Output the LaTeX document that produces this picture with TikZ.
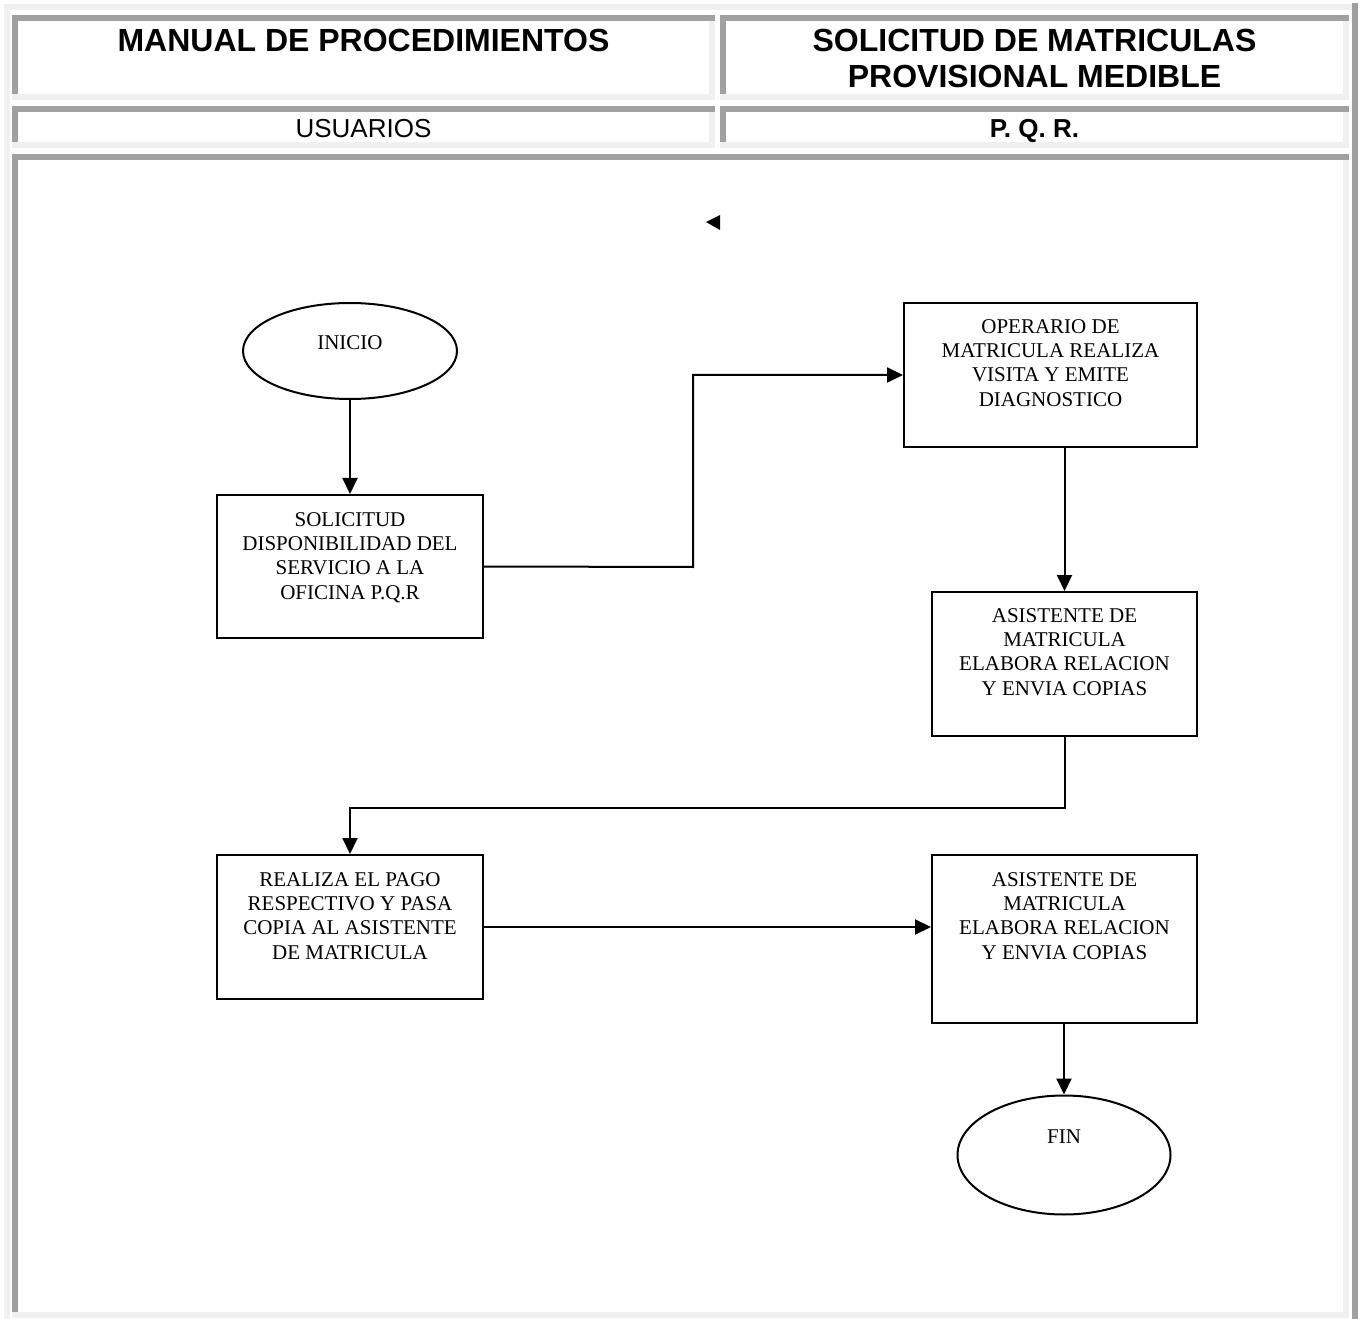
\documentclass[tikz,border=0pt]{standalone}
\usepackage{fontspec}
\setmainfont{Liberation Serif}
\newfontfamily\arialfont{Liberation Sans}
\usetikzlibrary{arrows.meta,shapes.geometric}

\definecolor{bevellight}{HTML}{F0F0F0}
\definecolor{beveldark}{HTML}{A0A0A0}

% one table cell with a sunken 6px bevel: dark top/left, light bottom/right
\newcommand{\bevelcell}[4]{%
  \fill[beveldark]  (#1,#2) rectangle (#1+6,#4-6);
  \fill[bevellight] (#1,#4-6) rectangle (#3,#4);
  \fill[bevellight] (#3-6,#2+6) rectangle (#3,#4);
  \fill[beveldark]  (#1,#2) rectangle (#3,#2+6);
}

\tikzset{
  stepbox/.style={draw, line width=1.5pt, rectangle, inner sep=0pt},
  endcap/.style={draw, line width=1.5pt, ellipse, inner sep=0pt},
  boxtext/.style={font=\fontsize{15.75}{18.3}\selectfont, align=center, inner sep=0pt, anchor=north},
  headbig/.style={font=\arialfont\bfseries\fontsize{24}{27}\selectfont, align=center, inner sep=0pt},
  headsmall/.style={font=\arialfont\fontsize{19.5}{23}\selectfont, inner sep=0pt},
  flow/.style={line width=1.5pt, -{Triangle[width=11.25pt,length=12pt]}},
}

\begin{document}
\begin{tikzpicture}[x=0.75pt, y=-0.75pt]
\useasboundingbox (0,0) rectangle (1361,1319);
\fill[white] (0,0) rectangle (1361,1319);

% outer table frame
\fill[bevellight] (4,4) rectangle (1352,10);
\fill[bevellight] (4,4) rectangle (10,1319);
\fill[beveldark]  (1352,3) rectangle (1358,1319);

% table cells
\bevelcell{12}{15}{715}{100}
\bevelcell{720}{15}{1349}{100}
\bevelcell{12}{106}{715}{148}
\bevelcell{720}{106}{1349}{148}
\bevelcell{12}{154}{1349}{1318}

% header texts
\node[headbig] (hmanual) at (363.5,40) {MANUAL DE PROCEDIMIENTOS};
\node[headbig] (htitle) at (1034.5,58) {SOLICITUD DE MATRICULAS\\PROVISIONAL MEDIBLE};
\node[headsmall, anchor=base] (husers) at (363.5,137.3) {USUARIOS};
\node[headsmall, anchor=base, font=\arialfont\bfseries\fontsize{19.5}{23}\selectfont] (hpqr) at (1034.5,137.3) {P. Q. R.};

% small marker
\fill (706,222) -- (720,215) -- (720,230) -- cycle;

% flowchart shapes
\node[endcap, minimum width=160.5pt, minimum height=72pt] (inicio) at (350,351) {};
\node[stepbox, minimum width=199.5pt, minimum height=107.25pt] (sol) at (350,566.5) {};
\node[stepbox, minimum width=219.75pt, minimum height=108pt] (ope) at (1050.5,375) {};
\node[stepbox, minimum width=198.75pt, minimum height=108pt] (asi1) at (1064.5,664) {};
\node[stepbox, minimum width=199.5pt, minimum height=108pt] (rea) at (350,927) {};
\node[stepbox, minimum width=198.75pt, minimum height=126pt] (asi2) at (1064.5,939) {};
\node[endcap, minimum width=159.75pt, minimum height=89.25pt] (fin) at (1064,1155) {};

% texts inside the shapes
\node[boxtext] at ([yshift=-24.75pt]inicio.north) {INICIO};
\node[boxtext] at ([yshift=-13.5pt]sol.north) {SOLICITUD\\DISPONIBILIDAD DEL\\SERVICIO A LA\\OFICINA P.Q.R};
\node[boxtext] at ([yshift=-12.75pt]ope.north) {OPERARIO DE\\MATRICULA REALIZA\\VISITA Y EMITE\\DIAGNOSTICO};
\node[boxtext] at ([yshift=-12.75pt]asi1.north) {ASISTENTE DE\\MATRICULA\\ELABORA RELACION\\Y ENVIA COPIAS};
\node[boxtext] at ([yshift=-13.5pt]rea.north) {REALIZA EL PAGO\\RESPECTIVO Y PASA\\COPIA AL ASISTENTE\\DE MATRICULA};
\node[boxtext] at ([yshift=-13.5pt]asi2.north) {ASISTENTE DE\\MATRICULA\\ELABORA RELACION\\Y ENVIA COPIAS};
\node[boxtext] at ([yshift=-26.25pt]fin.north) {FIN};

% connectors
\coordinate (upbend) at (693,567);
\coordinate (backbend) at (700,808);
\draw[flow] (inicio.south) -- (sol.north);
\draw[flow] (sol.east) -- (upbend) |- (ope.west);
\draw[flow] (ope.south -| asi1.north) -- (asi1.north);
\draw[flow] (asi1.south) |- (backbend) -| (rea.north);
\draw[flow] (rea.east) -- (rea.east -| asi2.west);
\draw[flow] (asi2.south -| fin.north) -- (fin.north);
\end{tikzpicture}
\end{document}
